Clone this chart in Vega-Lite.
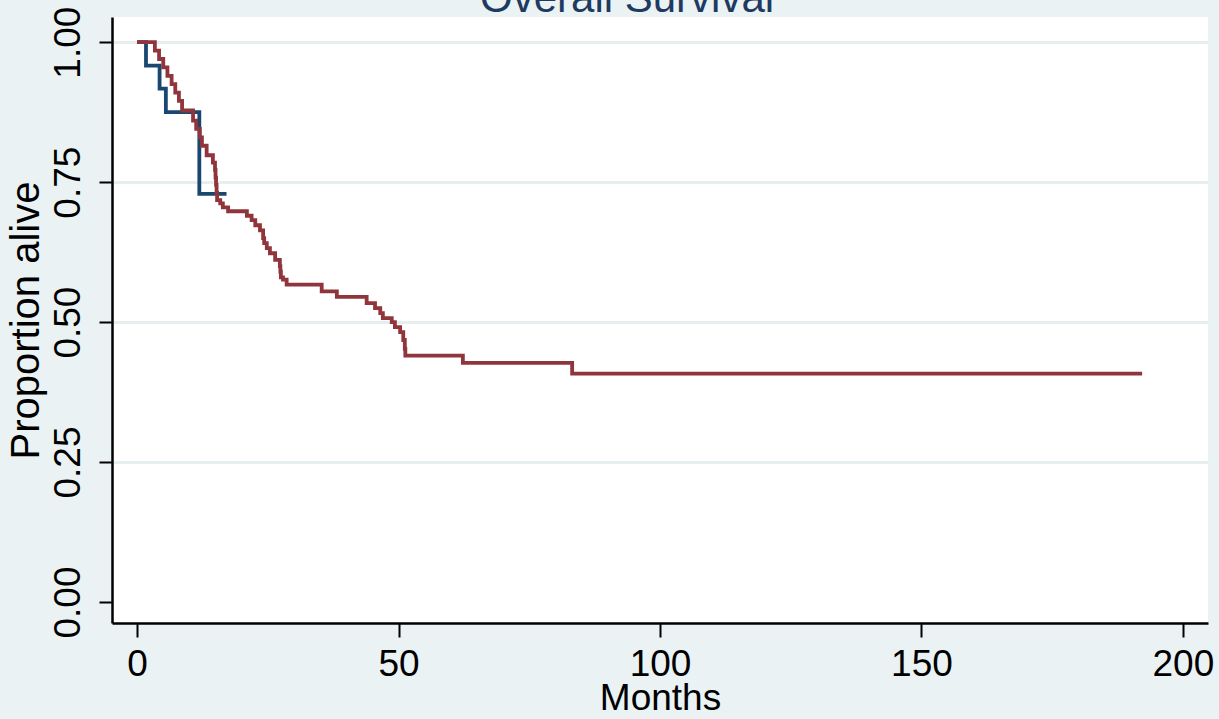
{
  "$schema": "https://vega.github.io/schema/vega-lite/v6.json",
  "width": 1096,
  "height": 606,
  "autosize": {"type": "none"},
  "padding": {"left": 112, "top": 17, "right": 11, "bottom": 96},
  "background": "#EAF2F3",
  "config": {
    "font": "Liberation Sans",
    "view": {"stroke": null, "fill": "white"}
  },
  "layer": [
    {
      "data": {
        "values": [
          {"group": "Group 1", "t": 0, "s": 1.0},
          {"group": "Group 1", "t": 1.7, "s": 0.958},
          {"group": "Group 1", "t": 4.3, "s": 0.917},
          {"group": "Group 1", "t": 5.5, "s": 0.875},
          {"group": "Group 1", "t": 11.9, "s": 0.729},
          {"group": "Group 1", "t": 17.1, "s": 0.729},
          {"group": "Group 2", "t": 0, "s": 1.0},
          {"group": "Group 2", "t": 3.4, "s": 0.985},
          {"group": "Group 2", "t": 4.2, "s": 0.970},
          {"group": "Group 2", "t": 5.0, "s": 0.955},
          {"group": "Group 2", "t": 5.8, "s": 0.940},
          {"group": "Group 2", "t": 6.6, "s": 0.925},
          {"group": "Group 2", "t": 7.3, "s": 0.910},
          {"group": "Group 2", "t": 8.0, "s": 0.895},
          {"group": "Group 2", "t": 8.6, "s": 0.878},
          {"group": "Group 2", "t": 10.7, "s": 0.860},
          {"group": "Group 2", "t": 11.3, "s": 0.845},
          {"group": "Group 2", "t": 12.0, "s": 0.830},
          {"group": "Group 2", "t": 12.4, "s": 0.815},
          {"group": "Group 2", "t": 13.3, "s": 0.798},
          {"group": "Group 2", "t": 14.5, "s": 0.785},
          {"group": "Group 2", "t": 14.9, "s": 0.772},
          {"group": "Group 2", "t": 15.0, "s": 0.758},
          {"group": "Group 2", "t": 15.1, "s": 0.745},
          {"group": "Group 2", "t": 15.2, "s": 0.731},
          {"group": "Group 2", "t": 15.3, "s": 0.718},
          {"group": "Group 2", "t": 15.9, "s": 0.712},
          {"group": "Group 2", "t": 16.4, "s": 0.705},
          {"group": "Group 2", "t": 17.4, "s": 0.698},
          {"group": "Group 2", "t": 21.0, "s": 0.690},
          {"group": "Group 2", "t": 21.9, "s": 0.682},
          {"group": "Group 2", "t": 22.6, "s": 0.673},
          {"group": "Group 2", "t": 23.5, "s": 0.664},
          {"group": "Group 2", "t": 24.1, "s": 0.650},
          {"group": "Group 2", "t": 24.3, "s": 0.641},
          {"group": "Group 2", "t": 24.8, "s": 0.632},
          {"group": "Group 2", "t": 25.4, "s": 0.623},
          {"group": "Group 2", "t": 26.4, "s": 0.611},
          {"group": "Group 2", "t": 27.3, "s": 0.600},
          {"group": "Group 2", "t": 27.4, "s": 0.590},
          {"group": "Group 2", "t": 27.5, "s": 0.580},
          {"group": "Group 2", "t": 27.9, "s": 0.576},
          {"group": "Group 2", "t": 28.6, "s": 0.567},
          {"group": "Group 2", "t": 35.3, "s": 0.555},
          {"group": "Group 2", "t": 38.2, "s": 0.545},
          {"group": "Group 2", "t": 43.9, "s": 0.534},
          {"group": "Group 2", "t": 45.5, "s": 0.525},
          {"group": "Group 2", "t": 46.5, "s": 0.516},
          {"group": "Group 2", "t": 47.0, "s": 0.507},
          {"group": "Group 2", "t": 48.7, "s": 0.500},
          {"group": "Group 2", "t": 49.3, "s": 0.491},
          {"group": "Group 2", "t": 50.3, "s": 0.482},
          {"group": "Group 2", "t": 50.9, "s": 0.468},
          {"group": "Group 2", "t": 51.2, "s": 0.452},
          {"group": "Group 2", "t": 51.3, "s": 0.440},
          {"group": "Group 2", "t": 62.3, "s": 0.427},
          {"group": "Group 2", "t": 83.2, "s": 0.408},
          {"group": "Group 2", "t": 192.2, "s": 0.408}
        ]
      },
      "mark": {"type": "line", "interpolate": "step-after", "strokeWidth": 3.8, "clip": false},
      "encoding": {
        "x": {
          "field": "t",
          "type": "quantitative",
          "scale": {"domain": [-4.8, 204.8], "nice": false, "zero": false},
          "axis": {
            "title": "Months",
            "values": [0, 50, 100, 150, 200],
            "grid": false,
            "domainColor": "#000000",
            "domainWidth": 2.5,
            "tickColor": "#000000",
            "tickWidth": 2,
            "tickSize": 14,
            "labelFontSize": 37,
            "labelColor": "#000000",
            "labelPadding": 9,
            "titleFontSize": 37,
            "titleFontWeight": "normal",
            "titleColor": "#000000",
            "titlePadding": -2
          }
        },
        "y": {
          "field": "s",
          "type": "quantitative",
          "scale": {"domain": [-0.0375, 1.045], "nice": false, "zero": false},
          "axis": {
            "title": "Proportion alive",
            "values": [0, 0.25, 0.5, 0.75, 1.0],
            "format": ".2f",
            "grid": true,
            "gridColor": "#E6EEEF",
            "gridWidth": 3,
            "gridOpacity": {"condition": {"test": "datum.value === 0", "value": 0}, "value": 1},
            "domainColor": "#000000",
            "domainWidth": 2.5,
            "tickColor": "#000000",
            "tickWidth": 2,
            "tickSize": 13,
            "labelFontSize": 37,
            "labelColor": "#000000",
            "labelAngle": 270,
            "labelAlign": "center",
            "labelBaseline": "bottom",
            "labelPadding": 12,
            "titleFontSize": 40,
            "titleFontWeight": "normal",
            "titleColor": "#000000",
            "titlePadding": 3
          }
        },
        "color": {
          "field": "group",
          "type": "nominal",
          "scale": {"domain": ["Group 1", "Group 2"], "range": ["#1A476F", "#90353B"]},
          "legend": null
        }
      }
    },
    {
      "data": {"values": [{"label": "Overall Survival"}]},
      "mark": {
        "type": "text",
        "fontSize": 42,
        "font": "Liberation Sans",
        "color": "#1e3a60",
        "align": "center",
        "baseline": "alphabetic",
        "clip": false
      },
      "encoding": {
        "text": {"field": "label", "type": "nominal"},
        "x": {"datum": 93.7, "type": "quantitative"},
        "y": {"datum": 1.0536, "type": "quantitative"}
      }
    }
  ]
}
